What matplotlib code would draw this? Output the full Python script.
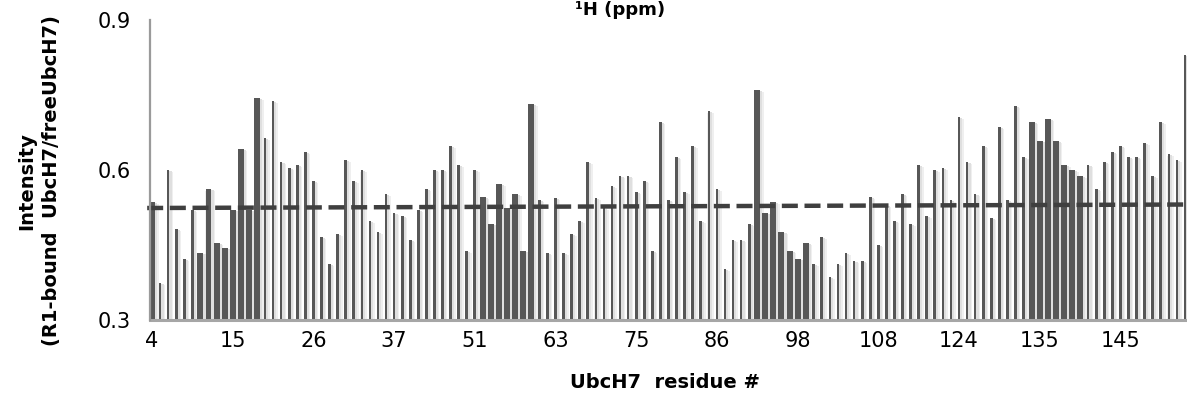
import numpy as np
import matplotlib
matplotlib.use("Agg")
import matplotlib.pyplot as plt

plt.rcParams['font.family'] = ['DejaVu Sans']

# intensity ratio for each assigned residue, left to right
intensity = [
    0.537, 0.375, 0.600, 0.483, 0.423, 0.520, 0.435, 0.563, 0.455, 0.444,
    0.520, 0.643, 0.520, 0.744, 0.665, 0.739, 0.616, 0.605, 0.611, 0.636,
    0.578, 0.466, 0.412, 0.472, 0.620, 0.578, 0.600, 0.499, 0.477, 0.553,
    0.515, 0.509, 0.461, 0.520, 0.562, 0.600, 0.600, 0.648, 0.611, 0.439,
    0.600, 0.546, 0.492, 0.573, 0.524, 0.552, 0.439, 0.733, 0.540, 0.434,
    0.545, 0.434, 0.472, 0.499, 0.616, 0.545, 0.524, 0.568, 0.589, 0.589,
    0.556, 0.578, 0.439, 0.696, 0.540, 0.626, 0.556, 0.648, 0.499, 0.718,
    0.562, 0.402, 0.461, 0.461, 0.492, 0.760, 0.515, 0.536, 0.476, 0.439,
    0.423, 0.455, 0.413, 0.466, 0.387, 0.413, 0.434, 0.418, 0.418, 0.547,
    0.450, 0.530, 0.499, 0.553, 0.492, 0.611, 0.508, 0.600, 0.604, 0.540,
    0.706, 0.616, 0.552, 0.648, 0.504, 0.686, 0.540, 0.728, 0.626, 0.696,
    0.658, 0.702, 0.658, 0.610, 0.600, 0.588, 0.610, 0.562, 0.616, 0.636,
    0.648, 0.626, 0.626, 0.654, 0.588, 0.696, 0.632, 0.620, 0.830,
]
tick_labels = ['4', '15', '26', '37', '51', '63', '75', '86', '98', '108',
               '124', '135', '145']
# linear trendline, value at first and last residue
trend_ends = [0.524, 0.531]

# bars drawn wider in the original (grouped stretches)
wide_bars = [0] + list(range(6, 14)) + list(range(41, 48)) + \
    list(range(75, 82)) + list(range(109, 116))

n = len(intensity)
x = np.arange(n)
vals = np.array(intensity)
widths = np.full(n, 0.33)
widths[wide_bars] = 0.74

fig = plt.figure(figsize=(11.87, 4.03), dpi=100)
ax = fig.add_axes([150 / 1187, 1 - 320 / 403, 1037 / 1187, 300 / 403])

base = 0.3
# soft shadow behind the bars
ax.bar(x + 0.22, vals - base - 0.004, width=widths + 0.45, bottom=base,
       color='#efefef', zorder=1, linewidth=0)
ax.bar(x + 0.16, vals - base - 0.002, width=widths + 0.2, bottom=base,
       color='#dfdfdf', zorder=1.5, linewidth=0)
ax.bar(x, vals - base, width=widths, bottom=base, color='#575757',
       zorder=2, linewidth=0)

ax.plot([-0.6, n], trend_ends, color='#3f3f3f', lw=3.2,
        dashes=(3.6, 1.5), zorder=3, solid_capstyle='butt',
        dash_capstyle='butt', clip_on=False)

ax.set_xlim(-0.25, n - 0.75)
ax.set_ylim(0.3, 0.9)
ax.set_yticks([0.3, 0.6, 0.9])
ax.set_yticklabels(['0.3', '0.6', '0.9'])
ax.set_xticks(x[::10])
ax.set_xticklabels(tick_labels)
ax.tick_params(axis='both', length=0, labelsize=15, colors='#000000')
ax.tick_params(axis='y', pad=14)
ax.tick_params(axis='x', pad=8)

for side in ['top', 'right']:
    ax.spines[side].set_visible(False)
ax.spines['left'].set_color('#9a9a9a')
ax.spines['left'].set_linewidth(1.6)
ax.spines['bottom'].set_color('#a6a6a6')
ax.spines['bottom'].set_linewidth(2.2)
ax.spines['left'].set_zorder(4)

fig.text(39 / 1187, 1 - 181 / 403,
         'Intensity\n(R1-bound  UbcH7/freeUbcH7)',
         rotation=90, ha='center', va='center', fontsize=14,
         fontweight='bold', linespacing=1.4)
fig.text(665 / 1187, 1 - 383 / 403, 'UbcH7  residue #', ha='center',
         va='center', fontsize=14, fontweight='bold')
fig.text(620 / 1187, 1 - 15 / 403, '¹H (ppm)', ha='center',
         va='baseline', fontsize=13, fontweight='bold')

fig.savefig('out.png', dpi=100)
